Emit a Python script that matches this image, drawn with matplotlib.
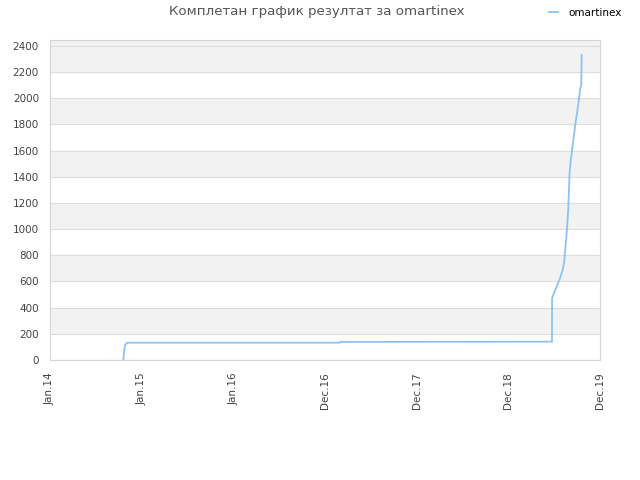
import matplotlib
matplotlib.use('Agg')
import matplotlib.pyplot as plt
import numpy as np

# x in "tick units" (one unit between consecutive labels), y = points
tick_labels = ['Jan.14', 'Jan.15', 'Jan.16', 'Dec.16', 'Dec.17', 'Dec.18', 'Dec.19']
xs = [0.800, 0.807, 0.818, 0.843, 3.164, 3.166, 5.476, 5.477, 5.483, 5.527,
      5.563, 5.592, 5.607, 5.629, 5.643, 5.654, 5.662, 5.669, 5.680, 5.698,
      5.716, 5.735, 5.752, 5.771, 5.785, 5.796, 5.800]
ys = [0, 60, 115, 132, 132, 138, 140, 472, 484, 560,
      624, 688, 739, 905, 1032, 1160, 1313, 1440, 1516, 1618,
      1720, 1822, 1898, 2000, 2077, 2102, 2332]
y_ticks = list(range(0, 2401, 200))
ymax = 2445

fig = plt.figure(figsize=(6.4, 4.8), dpi=100)
ax = fig.add_axes([50 / 640, 1 - 360 / 480, 550 / 640, 320 / 480])

# alternating background bands
for lo in range(200, 2400, 400):
    ax.axhspan(lo, lo + 200, color='#f2f2f2', zorder=0, lw=0)
ax.axhspan(2200, ymax, color='#f2f2f2', zorder=0, lw=0)
for t in y_ticks:
    ax.axhline(t, color='#dddddd', lw=0.8, zorder=1)

ax.plot(xs, ys, color='#8ec2f2', lw=1.3, zorder=3, label='omartinex')

ax.set_xlim(0, 6)
ax.set_ylim(0, ymax)
ax.set_xticks(range(len(tick_labels)))
ax.set_xticklabels(tick_labels, rotation=90)
ax.set_yticks(y_ticks)
ax.tick_params(length=0, labelsize=7.5, colors='#444444')
ax.tick_params(axis='x', pad=9)
ax.tick_params(axis='y', pad=8)
for s in ax.spines.values():
    s.set_color('#d5d5d5')
    s.set_linewidth(0.8)

fig.text(317 / 640, 1 - 12 / 480, 'Комплетан график резултат за omartinex',
         ha='center', va='center', fontsize=9.6, color='#555555')
fig.legend(loc='center left', bbox_to_anchor=(549 / 640, 1 - 13 / 480),
           frameon=False, fontsize=7.5, handlelength=0.9, handletextpad=1.0,
           borderaxespad=0, borderpad=0)

fig.savefig('out.png', dpi=100)
